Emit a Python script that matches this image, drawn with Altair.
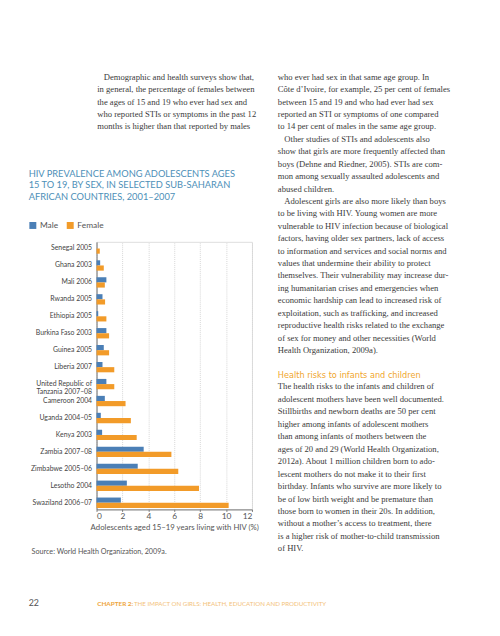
import altair as alt
import pandas as pd

countries = ["Senegal 2005", "Ghana 2003", "Mali 2006", "Rwanda 2005", "Ethiopia 2005",
             "Burkina Faso 2003", "Guinea 2005", "Liberia 2007",
             "United Republic of|Tanzania 2007–08", "Cameroon 2004", "Uganda 2004–05",
             "Kenya 2003", "Zambia 2007–08", "Zimbabwe 2005–06", "Lesotho 2004",
             "Swaziland 2006–07"]
male = [0.0, 0.28, 0.76, 0.46, 0.13, 0.76, 0.56, 0.46, 0.76, 0.64, 0.33, 0.43, 3.64, 3.18, 2.34, 1.88]
female = [0.25, 0.56, 0.64, 0.66, 0.76, 0.97, 0.97, 1.37, 1.37, 2.24, 2.65, 3.1, 5.78, 6.31, 7.91, 10.2]
sexes = ["Male", "Female"]
x_ticks = [0, 2, 4, 6, 8, 10, 12]

title_lines = ["HIV PREVALENCE AMONG ADOLESCENTS AGES",
               "15 TO 19, BY SEX, IN SELECTED SUB-SAHARAN",
               "AFRICAN COUNTRIES, 2001–2007"]
x_title = "Adolescents aged 15–19 years living with HIV (%)"
source = "Source: World Health Organization, 2009a."

IND = "\u200b" + "\u00a0" * 3
left_par = [IND + "Demographic and health surveys show that,",
            "in general, the percentage of females between",
            "the ages of 15 and 19 who ever had sex and",
            "who reported STIs or symptoms in the past 12",
            "months is higher than that reported by males"]
right_par1 = ["who ever had sex in that same age group. In",
              "Côte d’Ivoire, for example, 25 per cent of females",
              "between 15 and 19 and who had ever had sex",
              "reported an STI or symptoms of one compared",
              "to 14 per cent of males in the same age group.",
              IND + "Other studies of STIs and adolescents also",
              "show that girls are more frequently affected than",
              "boys (Dehne and Riedner, 2005). STIs are com-",
              "mon among sexually assaulted adolescents and",
              "abused children.",
              IND + "Adolescent girls are also more likely than boys",
              "to be living with HIV. Young women are more",
              "vulnerable to HIV infection because of biological",
              "factors, having older sex partners, lack of access",
              "to information and services and social norms and",
              "values that undermine their ability to protect",
              "themselves. Their vulnerability may increase dur-",
              "ing humanitarian crises and emergencies when",
              "economic hardship can lead to increased risk of",
              "exploitation, such as trafficking, and increased",
              "reproductive health risks related to the exchange",
              "of sex for money and other necessities (World",
              "Health Organization, 2009a)."]
heading = "Health risks to infants and children"
right_par2 = ["The health risks to the infants and children of",
              "adolescent mothers have been well documented.",
              "Stillbirths and newborn deaths are 50 per cent",
              "higher among infants of adolescent mothers",
              "than among infants of mothers between the",
              "ages of 20 and 29 (World Health Organization,",
              "2012a). About 1 million children born to ado-",
              "lescent mothers do not make it to their first",
              "birthday. Infants who survive are more likely to",
              "be of low birth weight and be premature than",
              "those born to women in their 20s. In addition,",
              "without a mother’s access to treatment, there",
              "is a higher risk of mother-to-child transmission",
              "of HIV."]
page_no = "22"
chapter_bold = "CHAPTER 2:"
chapter_rest = "THE IMPACT ON GIRLS: HEALTH, EDUCATION AND PRODUCTIVITY"

rows = []
for c, m, f in zip(countries, male, female):
    rows.append({"country": c, "sex": "Male", "value": m})
    rows.append({"country": c, "sex": "Female", "value": f})
df = pd.DataFrame(rows)

BLUE = "#4b7fb6"
ORANGE = "#f29b29"
SANS = "Lato"
SERIF = "Liberation Serif"

bars = alt.Chart(df).mark_bar().encode(
    y=alt.Y("country:N", sort=countries,
            scale=alt.Scale(paddingInner=0.39, paddingOuter=0.09),
            axis=alt.Axis(title=None, ticks=False, labelPadding=5, labelFontSize=7,
                          labelColor="#444", labelFont=SANS, domainColor="#777",
                          labelLineHeight=7.8, labelExpr="split(datum.label, '|')")),
    yOffset=alt.YOffset("sex:N", sort=sexes),
    x=alt.X("value:Q", scale=alt.Scale(domain=[0, 12], nice=False),
            axis=alt.Axis(values=x_ticks, title=x_title, tickSize=2, labelPadding=0,
                          labelFontSize=8.5, labelColor="#555", labelFont=SANS,
                          titleFont=SANS, titleFontSize=7.9, titleFontWeight="normal",
                          titleColor="#555", titlePadding=4, domainColor="#777",
                          tickColor="#777", gridColor="#d6d6d6", gridDash=[1, 1])),
    color=alt.Color("sex:N", sort=sexes,
                    scale=alt.Scale(domain=sexes, range=[BLUE, ORANGE]),
                    legend=alt.Legend(title=None, orient="none", direction="horizontal",
                                      legendX=-69, legendY=-21, symbolType="square",
                                      symbolSize=50, symbolStrokeWidth=0, labelFont=SANS,
                                      labelFontSize=8.5, labelColor="#555",
                                      columnPadding=8, labelOffset=3)),
)

one = pd.DataFrame({"k": [0]})

def block(lines, x, y, font, size, color, lh=12.62, weight="normal"):
    return alt.Chart(one).mark_text(
        text=lines, align="left", baseline="alphabetic", font=font, fontSize=size,
        color=color, lineHeight=lh, fontWeight=weight
    ).encode(x=alt.value(x), y=alt.value(y))

TEXT = "#3a3a3a"
layers = [
    bars,
    block(title_lines, -69, -66.4, SANS, 9.45, "#4d8fb8", lh=11.85),
    block(left_par, 0.7, -164.7, SERIF, 8.75, TEXT),
    block(right_par1, 184.3, -164.7, SERIF, 8.75, TEXT),
    block([heading], 184.3, 138.5, "DejaVu Sans", 8.3, "#f0a62e"),
    block(right_par2, 184.3, 150.0, SERIF, 8.75, TEXT, lh=12.67),
    block([source], -66, 317, SANS, 7.3, "#555"),
    block([page_no], -69, 370, SANS, 9, "#555"),
    block([chapter_bold], 0.7, 369.8, SANS, 6.5, "#eea43a", weight="bold"),
    block([chapter_rest], 38, 369.8, SANS, 6.3, "#f3c27a"),
]

chart = alt.layer(*layers).properties(
    width=158, height=272,
    autosize=alt.AutoSizeParams(type="none"),
    padding={"left": 90, "top": 232.5, "right": 244, "bottom": 123.5},
).configure_view(stroke=None).configure(background="white")

chart.save("out.html", embed_options={"renderer": "svg", "actions": False})
